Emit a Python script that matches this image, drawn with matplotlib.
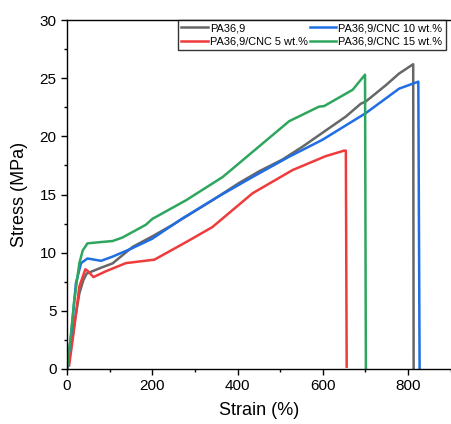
import matplotlib
matplotlib.use("Agg")
import matplotlib.pyplot as plt
from matplotlib.ticker import MultipleLocator

plt.rcParams["font.family"] = ["Liberation Sans", "DejaVu Sans"]

# strain (%) / stress (MPa)
pa_x = [0, 10, 20, 29, 38, 46, 76, 107, 154, 200, 248, 310, 341, 404, 451, 505, 552, 599, 654, 689, 701, 748, 779, 812, 813]
pa_y = [0, 2.0, 4.5, 6.5, 7.6, 8.2, 8.65, 9.08, 10.5, 11.4, 12.4, 13.8, 14.5, 16.0, 17.0, 18.0, 19.1, 20.3, 21.7, 22.8, 23.0, 24.4, 25.4, 26.2, 0]

c5_x = [5, 15, 29, 43, 48, 62, 91, 138, 205, 279, 341, 435, 529, 607, 650, 654, 656]
c5_y = [0.3, 3.0, 7.1, 8.57, 8.45, 7.9, 8.4, 9.1, 9.4, 10.9, 12.2, 15.1, 17.1, 18.3, 18.77, 18.77, 0.2]

c10_x = [0, 10, 21, 33, 48, 80, 107, 154, 200, 271, 349, 435, 521, 599, 701, 779, 824, 827]
c10_y = [0, 3.0, 7.4, 9.1, 9.5, 9.3, 9.66, 10.4, 11.2, 12.95, 14.7, 16.5, 18.25, 19.7, 22.0, 24.1, 24.7, 0]

c15_x = [0, 8, 17, 29, 37, 48, 76, 107, 130, 185, 200, 279, 365, 404, 521, 591, 603, 670, 699, 701]
c15_y = [0, 2.5, 5.9, 9.1, 10.2, 10.8, 10.9, 11.0, 11.3, 12.4, 12.9, 14.5, 16.5, 17.7, 21.3, 22.55, 22.6, 24.0, 25.3, 0]

labels = ["PA36,9", "PA36,9/CNC 5 wt.%", "PA36,9/CNC 10 wt.%", "PA36,9/CNC 15 wt.%"]
colors = ["#676767", "#ef3b3b", "#1f6ee3", "#2fa65e"]

fig = plt.figure(figsize=(4.52, 4.24), dpi=100)
ax = fig.add_axes([67 / 452, 55 / 424, 385 / 452, 349 / 424])

for xs, ys, lab, col in zip([pa_x, c5_x, c10_x, c15_x], [pa_y, c5_y, c10_y, c15_y], labels, colors):
    ax.plot(xs, ys, color=col, lw=1.8, label=lab)

ax.set_xlim(0, 903)
ax.set_ylim(0, 30)
ax.xaxis.set_major_locator(MultipleLocator(200))
ax.xaxis.set_minor_locator(MultipleLocator(100))
ax.yaxis.set_major_locator(MultipleLocator(5))
ax.yaxis.set_minor_locator(MultipleLocator(2.5))
ax.tick_params(which="both", direction="out", labelsize=11, width=1)
ax.tick_params(which="major", length=4)
ax.tick_params(which="minor", length=2.5)
ax.spines["right"].set_visible(False)
for s in ("left", "bottom", "top"):
    ax.spines[s].set_linewidth(1)

ax.set_xlabel("Strain (%)", fontsize=13, labelpad=6)
ax.set_ylabel("Stress (MPa)", fontsize=13, labelpad=8)

leg = fig.legend(loc="upper left", bbox_to_anchor=(178 / 452, 404 / 424), ncol=2,
                 fontsize=7.9, frameon=True, fancybox=False, edgecolor="black",
                 handlelength=2.4, handletextpad=0.2, columnspacing=0.2,
                 borderpad=0.3, labelspacing=0.3, borderaxespad=0)
leg.get_frame().set_linewidth(1)

fig.savefig("out.png", dpi=100)
